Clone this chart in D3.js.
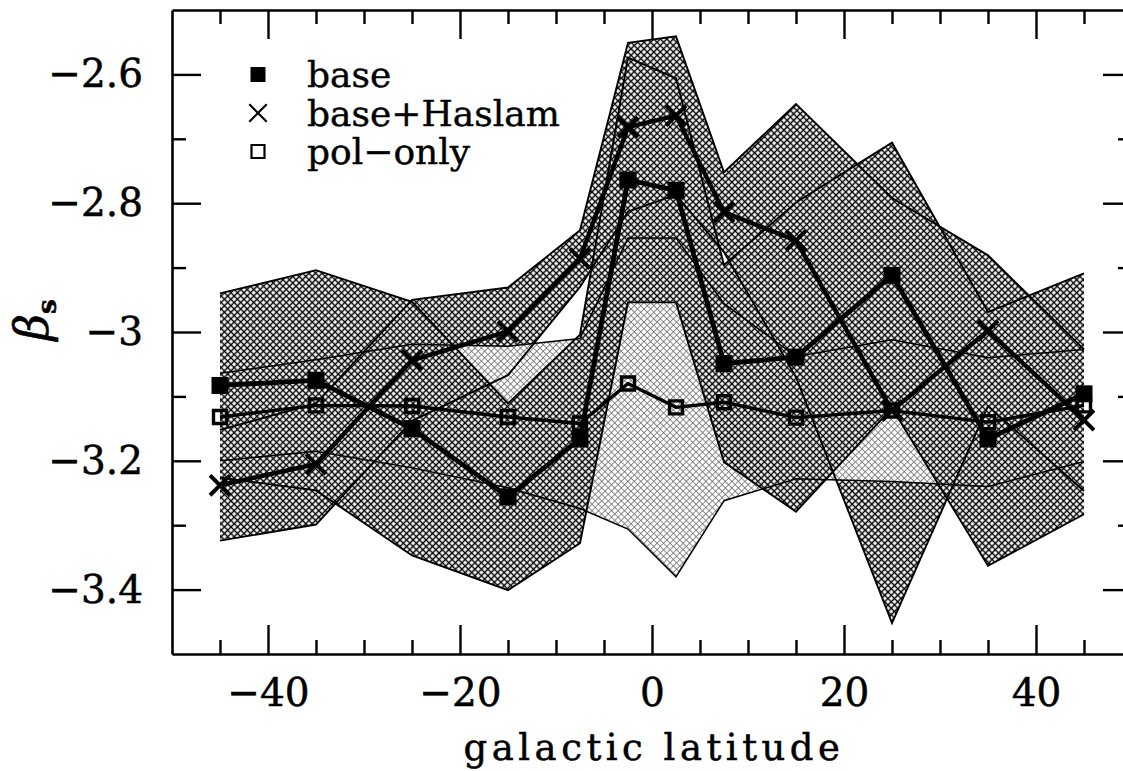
<!DOCTYPE html>
<html>
<head>
<meta charset="utf-8">
<script src="https://cdn.jsdelivr.net/npm/d3@7"></script>
<style>
  html, body { margin: 0; padding: 0; background: #fff; }
  svg { display: block; }
</style>
</head>
<body>
<svg id="chart" width="1123" height="771"></svg>
<script>
// ---------------- data ----------------
const latitudes    = [-45, -35, -25, -15, -7.5, -2.5, 2.5, 7.5, 15, 25, 35, 45];

const baseValues   = [-3.083, -3.075, -3.150, -3.256, -3.166, -2.764, -2.780, -3.049, -3.039, -2.912, -3.166, -3.096];
const baseErrors   = [ 0.143,  0.171,  0.197,  0.145,  0.162,  0.190,  0.174,  0.153,  0.240,  0.206,  0.197,  0.187];

const haslamValues = [-3.238, -3.205, -3.044, -2.999, -2.886, -2.682, -2.664, -2.814, -2.858, -3.122, -2.998, -3.137];
const haslamErrors = [ 0.086,  0.094,  0.094,  0.068,  0.044,  0.131,  0.123,  0.062,  0.212,  0.330,  0.117,  0.110];

const polValues    = [-3.132, -3.114, -3.115, -3.132, -3.142, -3.080, -3.117, -3.109, -3.133, -3.122, -3.140, -3.114];
const polErrors    = [ 0.068,  0.071,  0.096,  0.110,  0.132,  0.226,  0.263,  0.153,  0.095,  0.110,  0.100,  0.087];

const xMajorTicks  = [-40, -20, 0, 20, 40];
const xTickLabels  = ["\u221240", "\u221220", "0", "20", "40"];
const xMinorTicks  = [-45, -35, -30, -25, -15, -10, -5, 5, 10, 15, 25, 30, 35, 45];
const yMajorTicks  = [-3.4, -3.2, -3, -2.8, -2.6];
const yTickLabels  = ["\u22123.4", "\u22123.2", "\u22123", "\u22122.8", "\u22122.6"];
const yMinorTicks  = [-3.3, -3.1, -2.9, -2.7];
const legendLabels = ["base", "base+Haslam", "pol\u2212only"];
const xTitle = "galactic latitude";

// ---------------- layout ----------------
const FONT = "'DejaVu Serif', 'Liberation Serif', serif";
const svg = d3.select("#chart");
const x = d3.scaleLinear().domain([-50, 50]).range([172, 1132]);
const y = d3.scaleLinear().domain([-3.5, -2.5]).range([654, 10]);

const defs = svg.append("defs");
function hatch(id, tile, color, width) {
  const p = defs.append("pattern")
    .attr("id", id)
    .attr("patternUnits", "userSpaceOnUse")
    .attr("width", tile).attr("height", tile)
    .attr("patternTransform", "rotate(45)");
  p.append("rect").attr("width", tile).attr("height", tile).attr("fill", "#fff");
  p.append("path")
    .attr("d", `M0,${tile/2}H${tile}M${tile/2},0V${tile}`)
    .attr("stroke", color).attr("stroke-width", width).attr("fill", "none");
}
hatch("dense", 4.6, "#000", 1.45);
hatch("light", 4.6, "#6a6a6a", 0.75);

defs.append("clipPath").attr("id", "plotclip")
  .append("rect")
  .attr("x", x(-50)).attr("y", y(-2.5))
  .attr("width", x(50) - x(-50)).attr("height", y(-3.5) - y(-2.5));

const plot = svg.append("g").attr("clip-path", "url(#plotclip)");

function band(vals, errs) {
  return latitudes.map((lat, i) => ({ x: lat, lo: vals[i] - errs[i], hi: vals[i] + errs[i] }));
}
const bands = {
  haslam: band(haslamValues, haslamErrors),
  pol: band(polValues, polErrors),
  base: band(baseValues, baseErrors)
};

const area = d3.area().x(d => x(d.x)).y0(d => y(d.lo)).y1(d => y(d.hi));
const lineLo = d3.line().x(d => x(d.x)).y(d => y(d.lo));
const lineHi = d3.line().x(d => x(d.x)).y(d => y(d.hi));

// fills (ordered so that the pol-only band shows lighter where base does not cover it)
plot.append("path").datum(bands.haslam).attr("d", area).attr("fill", "url(#dense)");
plot.append("path").datum(bands.pol).attr("d", area).attr("fill", "url(#light)");
plot.append("path").datum(bands.base).attr("d", area).attr("fill", "url(#dense)");

// band outlines
for (const key of ["haslam", "pol", "base"]) {
  const w = key === "pol" ? 1.5 : 1.9;
  plot.append("path").datum(bands[key]).attr("d", lineLo)
    .attr("fill", "none").attr("stroke", "#000").attr("stroke-width", w);
  plot.append("path").datum(bands[key]).attr("d", lineHi)
    .attr("fill", "none").attr("stroke", "#000").attr("stroke-width", w);
}

// series lines
const valLine = d3.line().x(d => x(d[0])).y(d => y(d[1]));
const zipped = arr => latitudes.map((lat, i) => [lat, arr[i]]);

plot.append("path").datum(zipped(polValues)).attr("d", valLine)
  .attr("fill", "none").attr("stroke", "#000").attr("stroke-width", 3.4).attr("stroke-linejoin", "round");
plot.append("path").datum(zipped(haslamValues)).attr("d", valLine)
  .attr("fill", "none").attr("stroke", "#000").attr("stroke-width", 4.4).attr("stroke-linejoin", "round");
plot.append("path").datum(zipped(baseValues)).attr("d", valLine)
  .attr("fill", "none").attr("stroke", "#000").attr("stroke-width", 4.8).attr("stroke-linejoin", "round");

// markers
const sq = d3.symbol().type(d3.symbolSquare);
const timesType = d3.symbolTimes || d3.symbolX || {
  draw(ctx, size) { const r = Math.sqrt(size) / 2; ctx.moveTo(-r, -r); ctx.lineTo(r, r); ctx.moveTo(-r, r); ctx.lineTo(r, -r); }
};
const tx = d3.symbol().type(timesType);

plot.selectAll(".pm").data(zipped(polValues)).join("path")
  .attr("transform", d => `translate(${x(d[0])},${y(d[1])})`)
  .attr("d", sq.size(13 * 13)())
  .attr("fill", "none").attr("stroke", "#000").attr("stroke-width", 3.4);
plot.selectAll(".hm").data(zipped(haslamValues)).join("path")
  .attr("transform", d => `translate(${x(d[0])},${y(d[1])})`)
  .attr("d", tx.size(260)())
  .attr("fill", "none").attr("stroke", "#000").attr("stroke-width", 4);
plot.selectAll(".bm").data(zipped(baseValues)).join("path")
  .attr("transform", d => `translate(${x(d[0])},${y(d[1])})`)
  .attr("d", sq.size(17 * 17)())
  .attr("fill", "#000");

// ---------------- axes ----------------
function styleAxis(g, showLabels) {
  g.selectAll("path.domain").attr("stroke", "#000").attr("stroke-width", 2.6);
  g.selectAll(".tick line").attr("stroke", "#000").attr("stroke-width", 2.4);
  g.selectAll(".tick text").attr("font-family", FONT).attr("font-size", 39).attr("fill", "#000")
    .attr("stroke", "#000").attr("stroke-width", 0.5);
  if (!showLabels) g.selectAll(".tick text").remove();
}
const ax = svg.append("g");
// major
ax.append("g").attr("transform", `translate(0,${y(-3.5)})`)
  .call(d3.axisBottom(x).tickValues(xMajorTicks).tickFormat((d, i) => xTickLabels[i])
    .tickSizeInner(-29).tickSizeOuter(0).tickPadding(24))
  .call(g => styleAxis(g, true));
ax.append("g").attr("transform", `translate(0,${y(-2.5)})`)
  .call(d3.axisTop(x).tickValues(xMajorTicks).tickSizeInner(-29).tickSizeOuter(0))
  .call(g => styleAxis(g, false));
ax.append("g").attr("transform", `translate(${x(-50)},0)`)
  .call(d3.axisLeft(y).tickValues(yMajorTicks).tickFormat((d, i) => yTickLabels[i])
    .tickSizeInner(-29).tickSizeOuter(0).tickPadding(29))
  .call(g => styleAxis(g, true));
ax.append("g").attr("transform", `translate(${x(50)},0)`)
  .call(d3.axisRight(y).tickValues(yMajorTicks).tickSizeInner(-29).tickSizeOuter(0))
  .call(g => styleAxis(g, false));
// minor
function minor(g) { g.select("path.domain").remove(); styleAxis(g, false); }
ax.append("g").attr("transform", `translate(0,${y(-3.5)})`)
  .call(d3.axisBottom(x).tickValues(xMinorTicks).tickSizeInner(-14).tickSizeOuter(0)).call(minor);
ax.append("g").attr("transform", `translate(0,${y(-2.5)})`)
  .call(d3.axisTop(x).tickValues(xMinorTicks).tickSizeInner(-14).tickSizeOuter(0)).call(minor);
ax.append("g").attr("transform", `translate(${x(-50)},0)`)
  .call(d3.axisLeft(y).tickValues(yMinorTicks).tickSizeInner(-14).tickSizeOuter(0)).call(minor);
ax.append("g").attr("transform", `translate(${x(50)},0)`)
  .call(d3.axisRight(y).tickValues(yMinorTicks).tickSizeInner(-14).tickSizeOuter(0)).call(minor);

// axis titles
svg.append("text")
  .attr("x", x(0) + 2).attr("y", 760)
  .attr("text-anchor", "middle")
  .attr("font-family", FONT).attr("font-size", 37).attr("letter-spacing", 4.5)
  .attr("stroke", "#000").attr("stroke-width", 0.5)
  .text(xTitle);

const yt = svg.append("text")
  .attr("transform", `translate(48,${(y(-2.5) + y(-3.5)) / 2 - 12}) rotate(-90)`)
  .attr("text-anchor", "middle")
  .attr("font-family", FONT).attr("stroke", "#000").attr("stroke-width", 0.6);
yt.append("tspan").attr("font-size", 46).attr("font-style", "italic").text("\u03B2");
yt.append("tspan").attr("font-size", 26).attr("font-weight", "bold").attr("dy", 8).text("s");

// ---------------- legend ----------------
const legendY = [74.5, 113, 151.5];
const lg = svg.append("g");
lg.append("path").attr("transform", `translate(258,${legendY[0]})`)
  .attr("d", sq.size(15 * 15)()).attr("fill", "#000");
lg.append("path").attr("transform", `translate(258,${legendY[1]})`)
  .attr("d", tx.size(200)()).attr("fill", "none").attr("stroke", "#000").attr("stroke-width", 2.2);
lg.append("path").attr("transform", `translate(258,${legendY[2]})`)
  .attr("d", sq.size(13 * 13)()).attr("fill", "#fff").attr("stroke", "#000").attr("stroke-width", 2.2);
legendLabels.forEach((t, i) => {
  lg.append("text").attr("x", 307).attr("y", legendY[i] + 12.5)
    .attr("font-family", FONT).attr("font-size", 36)
    .attr("stroke", "#000").attr("stroke-width", 0.4)
    .text(t);
});
</script>
</body>
</html>
